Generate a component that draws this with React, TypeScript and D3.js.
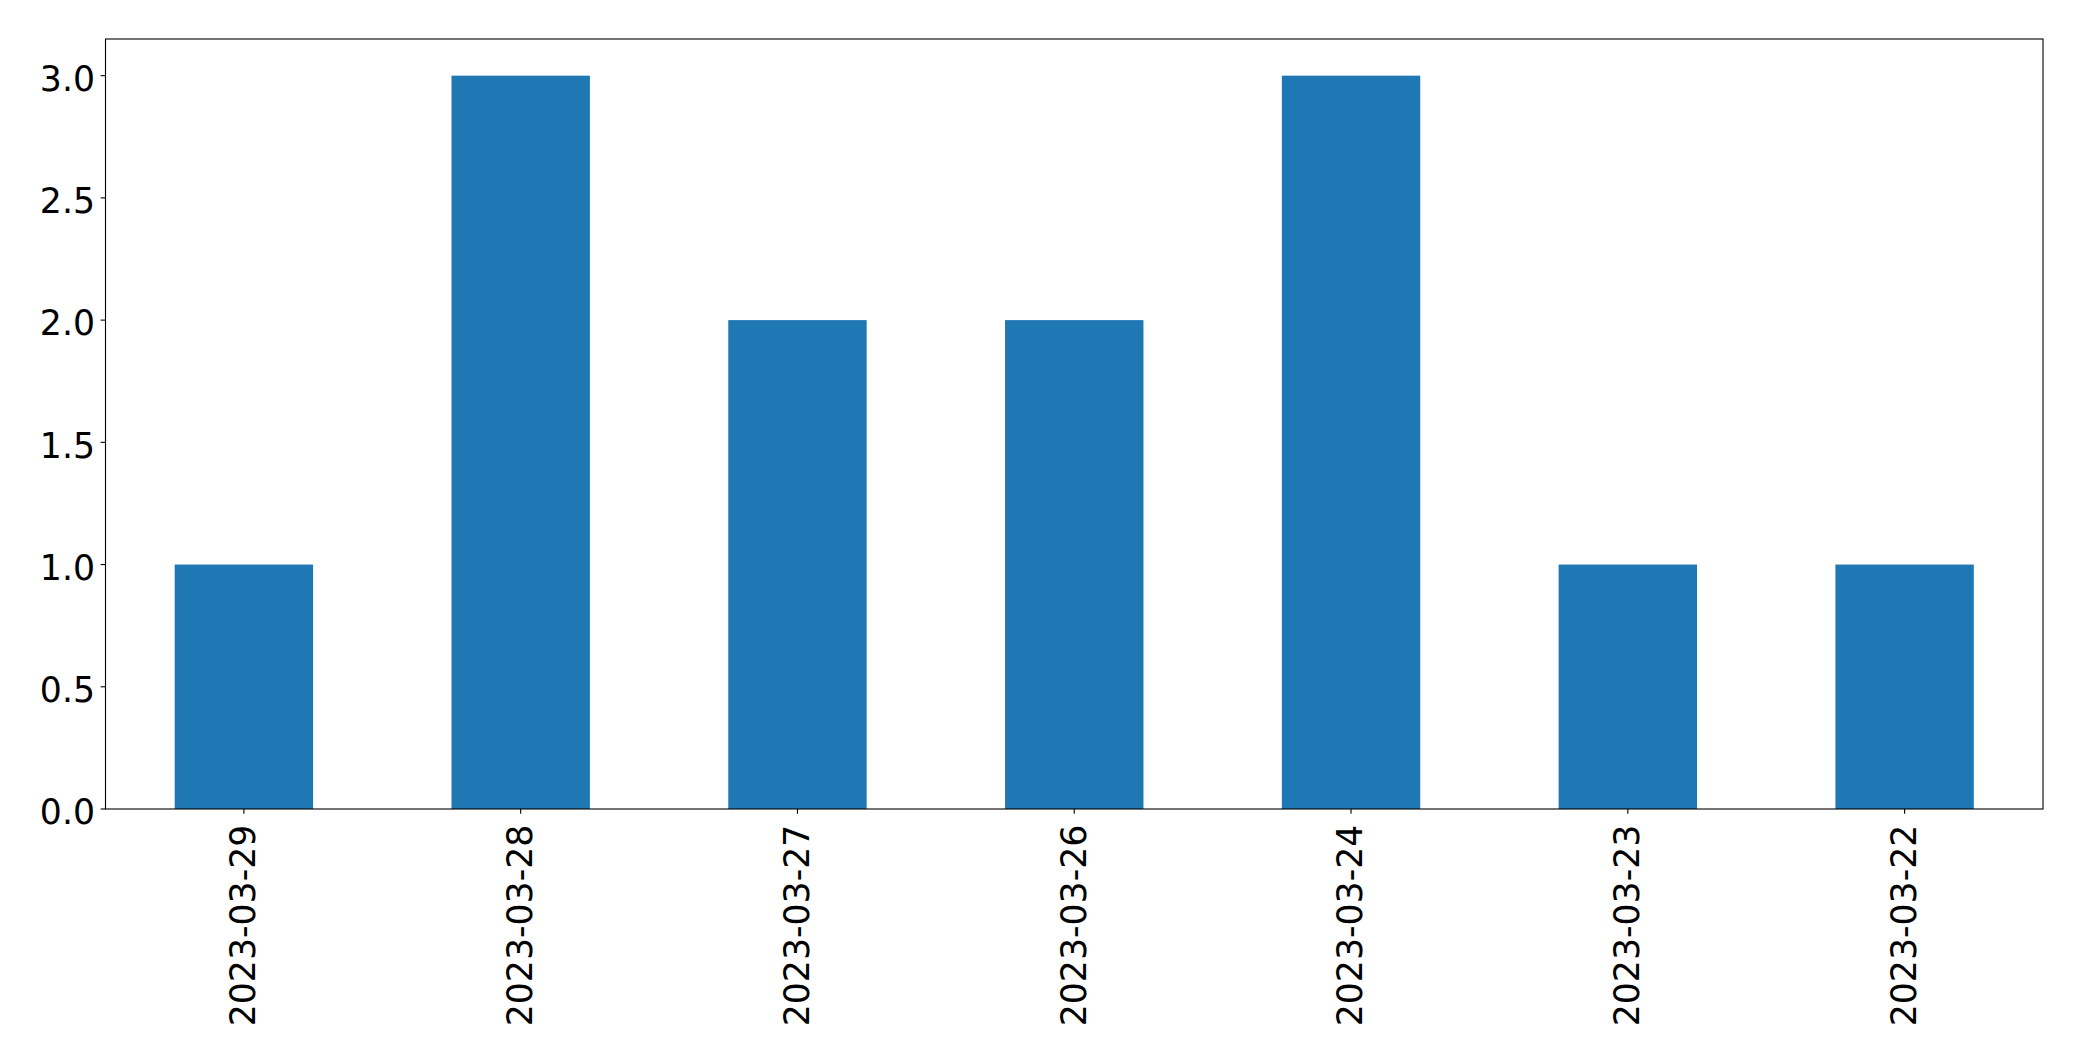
import React from "react";
import * as d3 from "d3";

const categories = ["2023-03-29", "2023-03-28", "2023-03-27", "2023-03-26", "2023-03-24", "2023-03-23", "2023-03-22"];
const values = [1, 3, 2, 2, 3, 1, 1];
const yTicks = [0, 0.5, 1.0, 1.5, 2.0, 2.5, 3.0];

const W = 2082, H = 1061;
const M = { left: 105.5, right: 2043, top: 39, bottom: 809 };
const FONT = "DejaVu Sans";
const FS = 34.7;
const TICK = 4.86;

export default function App() {
  const x = d3.scaleLinear().domain([-0.5, categories.length - 0.5]).range([M.left, M.right]);
  const y = d3.scaleLinear().domain([0, 3.15]).range([M.bottom, M.top]);
  const bw = x(0.25) - x(-0.25);
  return (
    <svg width={W} height={H} style={{ position: "absolute", left: 0, top: 0 }}>
      <rect x={0} y={0} width={W} height={H} fill="#fff" />
      {values.map((v, i) => (
        <rect key={i} x={x(i) - bw / 2} y={y(v)} width={bw} height={y(0) - y(v)} fill="#1f77b4" />
      ))}
      <rect x={M.left} y={M.top} width={M.right - M.left} height={M.bottom - M.top} fill="none" stroke="#000" strokeWidth={1.1} />
      {yTicks.map((t) => (
        <g key={t}>
          <line x1={M.left - TICK} x2={M.left} y1={y(t)} y2={y(t)} stroke="#000" strokeWidth={1.1} />
          <text x={M.left - 10.5} y={y(t)} dy="0.44em" textAnchor="end" fontFamily={FONT} fontSize={FS} fill="#000">
            {t.toFixed(1)}
          </text>
        </g>
      ))}
      {categories.map((c, i) => (
        <g key={c}>
          <line x1={x(i)} x2={x(i)} y1={M.bottom} y2={M.bottom + TICK} stroke="#000" strokeWidth={1.1} />
          <text
            transform={`translate(${x(i)},${M.bottom + 15.7}) rotate(-90)`}
            dy="0.33em"
            textAnchor="end"
            fontFamily={FONT}
            fontSize={FS}
            fill="#000"
          >
            {c}
          </text>
        </g>
      ))}
    </svg>
  );
}
